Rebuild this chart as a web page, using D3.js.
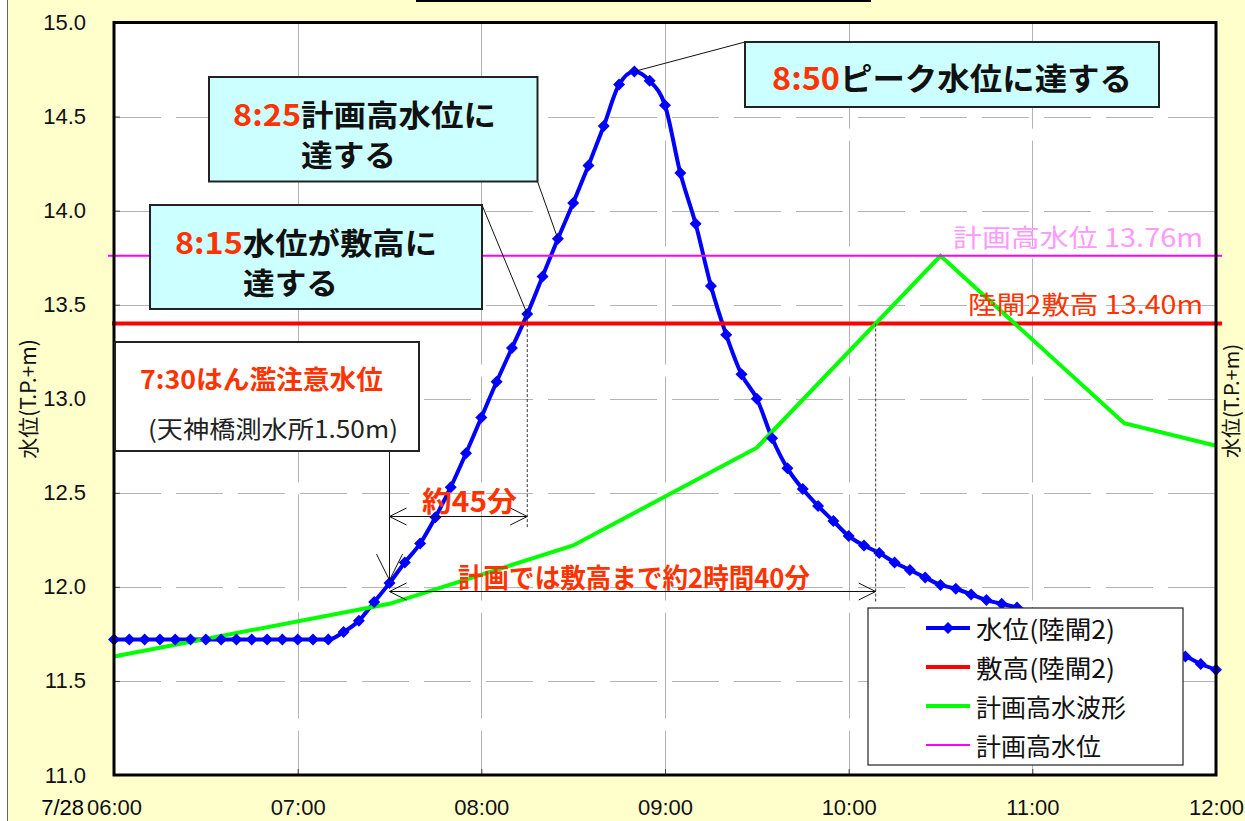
<!DOCTYPE html>
<html><head><meta charset="utf-8">
<script src="https://cdn.jsdelivr.net/npm/d3@7"></script>
<style>
body{margin:0;background:#fff;}
svg{display:block;}
text{font-family:"Noto Sans CJK JP","Noto Sans",sans-serif;}
.axis text{font-family:"Liberation Sans",Arial,sans-serif;font-size:22px;fill:#111;}
</style></head><body>
<svg id="chart" width="1245" height="821"></svg>
<script>
// ---- data -------------------------------------------------------------
// observed water level at 陸閘2, every 5 minutes from 06:00 to 12:00
const levelStart = "06:00";
const levelStepMinutes = 5;
const levelValues = [
  11.72,11.72,11.72,11.72,11.72,11.72,11.72,11.72,11.72,11.72,11.72,11.72,11.72,11.72,11.72, // 06:00-07:10
  11.76,11.82,11.92,12.02,12.13,12.23,12.37,12.53,12.71,                                     // 07:15-07:55
  12.90,13.09,13.27,13.45,13.65,13.85,14.04,14.24,14.45,14.67,14.74,14.69,                   // 08:00-08:55
  14.56,14.20,13.93,13.60,13.34,13.13,13.00,12.79,12.63,12.52,12.43,12.35,                   // 09:00-09:55
  12.27,12.22,12.18,12.13,12.09,12.05,12.01,11.99,11.96,11.93,11.91,11.89,                   // 10:00-10:55
  11.86,11.84,11.82,11.79,11.77,11.74,11.72,11.70,11.68,11.65,11.63,11.59,                   // 11:00-11:55
  11.56                                                                                      // 12:00
];
// design flood hydrograph
const planTimes  = ["06:00","07:30","08:30","09:30","10:30","11:30","12:00"];
const planValues = [11.63, 11.91, 12.22, 12.74, 13.76, 12.87, 12.75];
// reference levels
const sillLevel = 13.40;       // 陸閘2 敷高
const planHighLevel = 13.76;   // 計画高水位
// axes
const yTickValues = [11.0,11.5,12.0,12.5,13.0,13.5,14.0,14.5,15.0];
const xTickLabels = ["06:00","07:00","08:00","09:00","10:00","11:00","12:00"];
const dateLabel = "7/28";
const yTitle = "水位(T.P.+m)";
const legendLabels = ["水位(陸閘2)","敷高(陸閘2)","計画高水波形","計画高水位"];
// annotation times
const tSill = "08:15", tPlanHigh = "08:25", tPeak = "08:50", tWarn = "07:30";

// ---- setup ------------------------------------------------------------
const parse = d3.timeParse("%H:%M");
const svg = d3.select("#chart");
const W = 1245, H = 821;
const P = {l:114, r:1216, t:22.5, b:775};

const x = d3.scaleTime().domain([parse("06:00"), parse("12:00")]).range([P.l, P.r]);
const y = d3.scaleLinear().domain([11, 15]).range([P.b, P.t]);

const levelTimes = levelValues.map((_, i) => d3.timeMinute.offset(parse(levelStart), i * levelStepMinutes));
const level = levelValues.map((v, i) => ({t: levelTimes[i], v}));
const plan = planValues.map((v, i) => ({t: parse(planTimes[i]), v}));
const valueAt = s => level[levelTimes.findIndex(t => +t === +parse(s))];

const BLUE = "#0000FF", RED = "#FF0000", GREEN = "#00FF00", MAGENTA = "#FF00FF";
const NOTE_RED = "#FF3300", PINK = "#FF99FF";

// background
svg.append("rect").attr("width", W).attr("height", H).attr("fill", "#fff");
svg.append("rect").attr("x", 8).attr("width", W - 8).attr("height", H).attr("fill", "#FFFFCC");
svg.append("line").attr("x1", 7.5).attr("x2", 7.5).attr("y1", 0).attr("y2", H).attr("stroke", "#666");
svg.append("line").attr("x1", 416).attr("x2", 871).attr("y1", 1).attr("y2", 1).attr("stroke", "#000").attr("stroke-width", 2);

// plot area
svg.append("rect").attr("x", P.l).attr("y", P.t).attr("width", P.r - P.l).attr("height", P.b - P.t).attr("fill", "#fff");

// gridlines
const grid = svg.append("g").attr("stroke", "#b4b4b4").attr("stroke-width", 1);
grid.selectAll(".hg").data(yTickValues.filter(v => v > 11 && v < 15)).join("line")
  .attr("x1", P.l).attr("x2", P.r).attr("y1", d => Math.round(y(d)) + 0.5).attr("y2", d => Math.round(y(d)) + 0.5)
  .attr("stroke-dasharray", "47,15");
grid.selectAll(".vg").data(xTickLabels.slice(1, -1).map(parse)).join("line")
  .attr("x1", d => Math.round(x(d)) + 0.5).attr("x2", d => Math.round(x(d)) + 0.5).attr("y1", P.t).attr("y2", P.b)
  .attr("stroke-dasharray", "106,12");

// axes
const xAxis = svg.append("g").attr("class", "axis").attr("transform", `translate(0,${P.b})`)
  .call(d3.axisBottom(x).tickValues(xTickLabels.map(parse)).tickFormat(d3.timeFormat("%H:%M")).tickSizeInner(-6).tickSizeOuter(0).tickPadding(24));
const yAxis = svg.append("g").attr("class", "axis").attr("transform", `translate(${P.l},0)`)
  .call(d3.axisLeft(y).tickValues(yTickValues).tickFormat(d3.format(".1f")).tickSizeInner(-6).tickSizeOuter(0).tickPadding(28));
svg.selectAll(".axis .domain").remove();
svg.selectAll(".axis .tick line").attr("stroke", "#444");
svg.append("text").attr("class", "axis").attr("x", 84).attr("y", xAxis.select(".tick text").attr("y"))
  .attr("transform", `translate(0,${P.b})`).attr("dy", "0.71em").attr("text-anchor", "end")
  .style("font-family", "Liberation Sans, Arial, sans-serif").style("font-size", "22px").text(dateLabel);

// axis titles (left and right)
[[27, 399, 21], [1230, 401, 20]].forEach(([cx, cy, fs]) => {
  svg.append("text").attr("transform", `translate(${cx},${cy}) rotate(-90)`)
    .attr("text-anchor", "middle").attr("dominant-baseline", "central")
    .attr("font-size", fs).attr("fill", "#111").text(yTitle);
});

// ---- series -----------------------------------------------------------
const line = d3.line().x(d => x(d.t)).y(d => y(d.v));

svg.append("path").datum(level).attr("d", line.curve(d3.curveMonotoneX))
  .attr("fill", "none").attr("stroke", BLUE).attr("stroke-width", 4).attr("stroke-linejoin", "round");
line.curve(d3.curveLinear);

svg.append("line").attr("x1", P.l - 2).attr("x2", P.r + 6).attr("y1", y(sillLevel)).attr("y2", y(sillLevel))
  .attr("stroke", RED).attr("stroke-width", 4);
svg.append("path").datum(plan).attr("d", line).attr("fill", "none").attr("stroke", GREEN).attr("stroke-width", 4);
svg.append("line").attr("x1", P.l - 6).attr("x2", P.r + 6).attr("y1", y(planHighLevel)).attr("y2", y(planHighLevel))
  .attr("stroke", MAGENTA).attr("stroke-width", 2);

const diamond = "M0,-6L6,0L0,6L-6,0Z";
svg.append("g").selectAll("path").data(level).join("path")
  .attr("transform", d => `translate(${x(d.t)},${y(d.v)})`).attr("d", diamond).attr("fill", BLUE);

// plot border
svg.append("rect").attr("x", P.l).attr("y", P.t).attr("width", P.r - P.l).attr("height", P.b - P.t)
  .attr("fill", "none").attr("stroke", "#000").attr("stroke-width", 3);

// ---- annotations ------------------------------------------------------
const ann = svg.append("g");
function rich(xp, yp, parts, o) {
  const t = ann.append("text").attr("x", xp).attr("y", yp).attr("dominant-baseline", "central")
    .attr("font-size", o.size).attr("font-weight", o.weight || "normal").attr("text-anchor", o.anchor || "start");
  if (o.len) t.attr("textLength", o.len).attr("lengthAdjust", "spacingAndGlyphs");
  parts.forEach(([s, c]) => t.append("tspan").attr("fill", c).attr("dominant-baseline", "central").text(s));
  return t;
}
function box(x0, y0, x1, y1, fill) {
  ann.append("rect").attr("x", x0).attr("y", y0).attr("width", x1 - x0).attr("height", y1 - y0)
    .attr("fill", fill).attr("stroke", "#222").attr("stroke-width", 2);
}
function seg(x1, y1, x2, y2, o = {}) {
  ann.append("line").attr("x1", x1).attr("y1", y1).attr("x2", x2).attr("y2", y2)
    .attr("stroke", o.color || "#111").attr("stroke-width", o.w || 1).attr("stroke-dasharray", o.dash || null);
}
function arrowHead(tx, ty, dir, len, half) {
  // open V arrowhead with tip at (tx,ty); dir is the unit direction of travel
  const [dx, dy] = dir, px = -dy, py = dx;
  seg(tx, ty, tx - dx * len + px * half, ty - dy * len + py * half);
  seg(tx, ty, tx - dx * len - px * half, ty - dy * len - py * half);
}

const pSill = valueAt(tSill), pPlan = valueAt(tPlanHigh), pPeak = valueAt(tPeak), pWarn = valueAt(tWarn);

// crossing of the design hydrograph with the sill level (rising limb)
let tCross = null;
for (let i = 1; i < plan.length && !tCross; i++) {
  const a = plan[i - 1], b = plan[i];
  if (a.v < sillLevel && b.v >= sillLevel) {
    const f = (sillLevel - a.v) / (b.v - a.v);
    tCross = new Date(+a.t + f * (b.t - a.t));
  }
}

// leader lines
seg(745, 42, x(pPeak.t), y(pPeak.v));
seg(537.5, 181.5, x(pPlan.t), y(pPlan.v));
seg(482, 205, x(pSill.t), y(pSill.v));

// 8:50 peak
box(745, 42, 1159, 107, "#CCFFFF");
rich(952, 76, [["8:50", NOTE_RED], ["ピーク水位に達する", "#111"]], {size: 31, weight: "bold", anchor: "middle", len: 360});

// 8:25 design high water level
box(209, 77, 537.5, 181.5, "#CCFFFF");
rich(233, 113, [["8:25", NOTE_RED], ["計画高水位に", "#111"]], {size: 30, weight: "bold", len: 263});
rich(301, 153, [["達する", "#111"]], {size: 30, weight: "bold", len: 95});

// 8:15 sill
box(150, 205, 482, 309, "#CCFFFF");
rich(175, 241, [["8:15", NOTE_RED], ["水位が敷高に", "#111"]], {size: 30, weight: "bold", len: 262});
rich(243, 281, [["達する", "#111"]], {size: 30, weight: "bold", len: 95});

// 7:30 flood warning level
box(115, 342, 419, 451, "#FFFFFF");
rich(140, 377, [["7:30はん濫注意水位", NOTE_RED]], {size: 26, weight: "bold", len: 243});
rich(148, 427, [["(天神橋測水所1.50m)", "#222"]], {size: 24, len: 250});

// vertical arrow down to the 07:30 point
const wx = x(pWarn.t), wy = y(pWarn.v);
seg(wx, 452, wx, wy - 3);
arrowHead(wx, wy - 3, [0, 1], 26, 13);

// 約45分 : 07:30 -> 08:15
const a1y = 516.5, sx = x(pSill.t);
seg(sx, y(pSill.v), sx, 528, {dash: "3,2", color: "#333"});
seg(wx, a1y, sx, a1y);
arrowHead(wx, a1y, [-1, 0], 17, 8.5);
arrowHead(sx, a1y, [1, 0], 17, 8.5);
rich(422, 500, [["約45分", NOTE_RED]], {size: 28, weight: "bold", len: 95});

// 計画では敷高まで約2時間40分 : 07:30 -> design crossing of the sill
const a2y = 591.5, cx = x(tCross);
seg(cx, y(sillLevel), cx, 603, {dash: "3,2", color: "#333"});
seg(wx, a2y, cx, a2y);
arrowHead(wx, a2y, [-1, 0], 17, 8.5);
arrowHead(cx, a2y, [1, 0], 17, 8.5);
rich(458, 576, [["計画では敷高まで約2時間40分", NOTE_RED]], {size: 27, weight: "bold", len: 352});

// level labels on the right
rich(1203, 236, [["計画高水位 13.76m", PINK]], {size: 25, anchor: "end", len: 250});
rich(1203, 303, [["陸閘2敷高 13.40m", NOTE_RED]], {size: 25, anchor: "end", len: 235});

// ---- legend -----------------------------------------------------------
const lg = svg.append("g");
lg.append("rect").attr("x", 868).attr("y", 608).attr("width", 315).attr("height", 157)
  .attr("fill", "#fff").attr("stroke", "#222").attr("stroke-width", 1.2);
const legendStyles = [[BLUE, 4, true], [RED, 4, false], [GREEN, 4, false], [MAGENTA, 2, false]];
legendLabels.forEach((lab, i) => {
  const ly = 628 + i * 39;
  const [c, w, m] = legendStyles[i];
  lg.append("line").attr("x1", 926).attr("x2", 970).attr("y1", ly).attr("y2", ly).attr("stroke", c).attr("stroke-width", w);
  if (m) lg.append("path").attr("transform", `translate(948,${ly})`).attr("d", diamond).attr("fill", c);
  const t = lg.append("text").attr("x", 976).attr("y", ly).attr("dominant-baseline", "central")
    .attr("font-size", 25).attr("fill", "#111").text(lab);
  if (i < 2) t.attr("textLength", 139).attr("lengthAdjust", "spacingAndGlyphs");
});
</script>
</body></html>
